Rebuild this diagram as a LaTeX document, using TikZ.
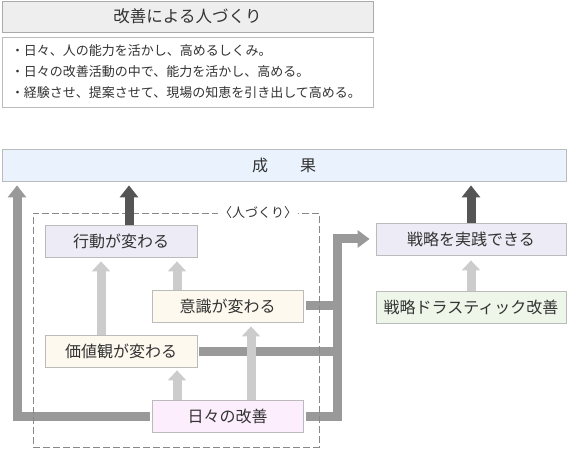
\documentclass[tikz,border=0pt]{standalone}
\usepackage{fontspec}
\setmainfont{Noto Sans CJK JP}
\usetikzlibrary{arrows.meta}
\usetikzlibrary{calc}

\definecolor{titlefill}{HTML}{EEEEEE}
\definecolor{titleline}{HTML}{AAAAAA}
\definecolor{boxline}{HTML}{BBBBBB}
\definecolor{seikafill}{HTML}{EAF2FD}
\definecolor{lavender}{HTML}{EDEBF5}
\definecolor{cream}{HTML}{FDF9EE}
\definecolor{pinkfill}{HTML}{FCEEFC}
\definecolor{mint}{HTML}{EEF6E9}
\definecolor{barmid}{HTML}{999999}
\definecolor{barlight}{HTML}{CCCCCC}
\definecolor{bardark}{HTML}{555555}
\definecolor{framegray}{HTML}{888888}
\definecolor{ink}{HTML}{333333}

\begin{document}
\begin{tikzpicture}[x=1pt,y=-1pt,
    box/.style={rectangle, draw=boxline, line width=0.8pt, inner sep=0pt, minimum height=32pt, minimum width=#1, text=ink, font=\fontsize{16}{19}\selectfont},
    bar/.style={draw=barmid, line width=9pt},
    darkarrow/.style={draw=bardark, line width=9pt, -{Triangle[width=18pt,length=12pt]}},
    lightarrow/.style={draw=barlight, line width=9pt, -{Triangle[width=18pt,length=10pt]}},
    zonebox/.style={rectangle, draw=framegray, line width=0.8pt, dash pattern=on 7pt off 3pt, minimum width=286pt, minimum height=234pt},
    zonelabel/.style={fill=white, inner xsep=1pt, inner ysep=0pt, text=ink, font=\fontsize{13}{15}\selectfont}]
  \useasboundingbox (0,0) rectangle (568,449);

  \node[box=371pt, fill=titlefill, draw=titleline, minimum height=31pt, font=\fontsize{16.5}{19}\selectfont] (title) at (187.5,16.5) {改善による人づくり};
  \node[box=371pt, fill=white, minimum height=70pt, text width=353pt, inner xsep=9pt, align=left, font=\fontsize{13}{21}\selectfont] (points) at (187.5,72) {
    ・日々、人の能力を活かし、高めるしくみ。\\
    ・日々の改善活動の中で、能力を活かし、高める。\\
    ・経験させ、提案させて、現場の知恵を引き出して高める。};

  \node[box=564pt, fill=seikafill] (seika) at (284,165) {成　　果};
  \node[box=152pt, fill=lavender] (koudou) at (121,241) {行動が変わる};
  \node[box=151pt, fill=cream] (ishiki) at (227.5,306) {意識が変わる};
  \node[box=152pt, fill=cream] (kachi) at (121,351) {価値観が変わる};
  \node[box=151pt, fill=pinkfill] (hibi) at (227.5,416) {日々の改善};
  \node[box=190pt, fill=lavender] (jissen) at (471,239) {戦略を実践できる};
  \node[box=190pt, fill=mint] (drastic) at (471,307) {戦略ドラスティック改善};

  \coordinate (leftx) at (17,0);
  \coordinate (bus) at (337,0);
  \coordinate (kx) at (129,0);
  \coordinate (kvx) at (101,0);
  \coordinate (ax) at (177,0);
  \coordinate (ix) at (251,0);
  \coordinate (labelx) at (258,0);

  \draw[bar, -{Triangle[width=18pt,length=12pt]}] ([xshift=-2pt]hibi.west) -| ($(seika.south -| leftx)+(0,4)$);
  \draw[bar, -{Triangle[width=17pt,length=12pt]}] ([xshift=3pt]hibi.east) -| (jissen.west -| bus) -- ([xshift=-6pt]jissen.west);
  \draw[bar] ([xshift=3pt]ishiki.east) -- (ishiki.east -| bus);
  \draw[bar] ([xshift=2pt]kachi.east) -- (kachi.east -| bus);

  \node[zonebox] (zone) at (176,330) {};
  \node[zonelabel] (zonename) at (zone.north -| labelx) {〈人づくり〉};

  \draw[darkarrow] (koudou.north -| kx) -- ($(seika.south -| kx)+(0,4)$);
  \draw[darkarrow] (jissen.north) -- ($(jissen.north |- seika.south)+(0,4)$);
  \draw[lightarrow] (drastic.north) -- ($(jissen.south)+(0,5)$);
  \draw[lightarrow] (kachi.north -| kvx) -- ($(koudou.south -| kvx)+(0,4)$);
  \draw[lightarrow] (ishiki.north -| ax) -- ($(koudou.south -| ax)+(0,4)$);
  \draw[lightarrow] (hibi.north -| ax) -- ($(kachi.south -| ax)+(0,3)$);
  \draw[lightarrow] (hibi.north -| ix) -- ($(ishiki.south -| ix)+(0,4)$);
\end{tikzpicture}
\end{document}
